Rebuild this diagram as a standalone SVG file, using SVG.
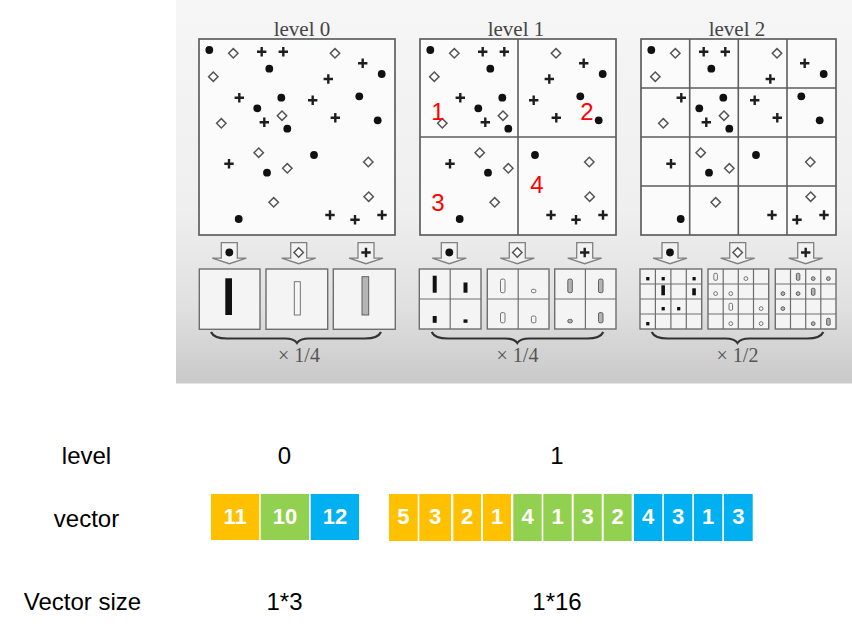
<svg xmlns="http://www.w3.org/2000/svg" xmlns:xlink="http://www.w3.org/1999/xlink" width="852" height="632" viewBox="0 0 852 632">
<style>
.frame{fill:#fbfbfb;stroke:#5e5e5e;stroke-width:1.7}
.div{stroke:#5e5e5e;stroke-width:1.6;fill:none}
.hbox{fill:#f4f4f4;stroke:#6e6e6e;stroke-width:1.4}
.hdiv{stroke:#6e6e6e;stroke-width:1.2;fill:none}
.title{font-family:"Liberation Serif",serif;font-size:21px;fill:#444;text-anchor:middle}
.scale{font-family:"Liberation Serif",serif;font-size:20px;fill:#555;text-anchor:middle}
.red{font-family:"Liberation Sans",Arial,sans-serif;font-size:24px;fill:#ff0000;text-anchor:middle}
.lbl{font-family:"Liberation Sans",Arial,sans-serif;font-size:24px;fill:#000;text-anchor:middle}
.num{font-family:"Liberation Sans",Arial,sans-serif;font-size:22px;font-weight:bold;fill:#fff;text-anchor:middle}
.brace{fill:none;stroke:#333;stroke-width:2.2}
.arrow{fill:#f2f2f2;stroke:#808080;stroke-width:1.3}
.bk{fill:#111}
.ol{fill:#f6f6f6;stroke:#666;stroke-width:0.9}
.gy{fill:#b4b4b4;stroke:#555;stroke-width:0.9}
.or{fill:#FFC000}.gr{fill:#92D050}.bl{fill:#00B0F0}
</style>
<defs>
<linearGradient id="bg" x1="0" y1="0" x2="0" y2="1">
<stop offset="0" stop-color="#f6f6f6"/>
<stop offset="0.55" stop-color="#efefef"/>
<stop offset="0.8" stop-color="#e0e0e0"/>
<stop offset="1" stop-color="#c9c9c9"/>
</linearGradient>
<circle id="d" r="3.9" fill="#111"/>
<path id="m" d="M0,-4.7L4.7,0L0,4.7L-4.7,0Z" fill="#fff" stroke="#555" stroke-width="1.5"/>
<path id="p" d="M-4.7,0H4.7M0,-4.7V4.7" stroke="#1e1e1e" stroke-width="2.4" fill="none"/>
<path id="arr" d="M-8,0H8V15.5H17L0,21L-17,15.5H-8Z" class="arrow"/>
<g id="pts">
<use href="#d" x="209.3" y="50"/><use href="#d" x="269.3" y="68.7"/><use href="#d" x="381.7" y="74"/><use href="#d" x="281.3" y="97.7"/><use href="#d" x="359.3" y="96.3"/><use href="#d" x="257.3" y="108.3"/><use href="#d" x="377.7" y="120.3"/><use href="#d" x="287.3" y="128.7"/><use href="#d" x="314" y="155"/><use href="#d" x="267" y="172.7"/><use href="#d" x="238.7" y="219"/>
<use href="#m" x="233.3" y="53.3"/><use href="#m" x="335" y="53.3"/><use href="#m" x="213.3" y="76.7"/><use href="#m" x="282" y="115.7"/><use href="#m" x="221.3" y="123.3"/><use href="#m" x="258.7" y="152.7"/><use href="#m" x="287.3" y="168.3"/><use href="#m" x="368.3" y="162"/><use href="#m" x="273.7" y="202.3"/><use href="#m" x="368.7" y="196.7"/>
<use href="#p" x="261.7" y="51.7"/><use href="#p" x="283.3" y="51.7"/><use href="#p" x="362.7" y="63.3"/><use href="#p" x="328.3" y="79"/><use href="#p" x="239.3" y="97.7"/><use href="#p" x="312.7" y="100.3"/><use href="#p" x="264.3" y="122.3"/><use href="#p" x="335.3" y="117.7"/><use href="#p" x="229" y="163.7"/><use href="#p" x="330" y="215"/><use href="#p" x="355" y="219.7"/><use href="#p" x="382" y="215"/>
</g>
</defs>
<rect width="852" height="632" fill="#fff"/>
<rect x="176" y="0" width="676" height="383.5" fill="url(#bg)"/>

<g id="level0">
<text class="title" x="302" y="36">level 0</text>
<rect class="frame" x="199" y="39" width="196" height="196"/>
<use href="#pts"/>
</g>

<g id="level1">
<text class="title" x="516" y="36">level 1</text>
<rect class="frame" x="420" y="39" width="196" height="196"/>
<path class="div" d="M518,39V235M420,137H616"/>
<use href="#pts" transform="translate(221,0)"/>
<text class="red" x="438" y="120">1</text>
<text class="red" x="587" y="120">2</text>
<text class="red" x="438" y="211">3</text>
<text class="red" x="537" y="193">4</text>
</g>

<g id="level2">
<text class="title" x="737" y="36">level 2</text>
<rect class="frame" x="641" y="39" width="195" height="196"/>
<path class="div" d="M689.7,39V235M738.3,39V235M787,39V235M641,88H836M641,137H836M641,186H836"/>
<use href="#pts" transform="translate(442,0)"/>
</g>

<g id="arrows">
<use href="#arr" x="229.3" y="242.7"/><use href="#d" x="229.3" y="252.5"/>
<use href="#arr" x="298.7" y="242.7"/><use href="#m" x="298.7" y="252.5"/>
<use href="#arr" x="366" y="242.7"/><use href="#p" x="366" y="252.5"/>
<use href="#arr" x="449.3" y="242.7"/><use href="#d" x="449.3" y="252.5"/>
<use href="#arr" x="517.3" y="242.7"/><use href="#m" x="517.3" y="252.5"/>
<use href="#arr" x="584.7" y="242.7"/><use href="#p" x="584.7" y="252.5"/>
<use href="#arr" x="670" y="242.7"/><use href="#d" x="670" y="252.5"/>
<use href="#arr" x="737.7" y="242.7"/><use href="#m" x="737.7" y="252.5"/>
<use href="#arr" x="805.7" y="242.7"/><use href="#p" x="805.7" y="252.5"/>
</g>

<g id="hist0">
<rect class="hbox" x="199.3" y="269" width="60.7" height="60.3"/>
<rect class="hbox" x="266" y="269" width="61.7" height="60.3"/>
<rect class="hbox" x="333.3" y="269" width="62" height="60.3"/>
<rect class="bk" x="225.3" y="278.3" width="6.7" height="36.7"/>
<rect class="ol" x="294.3" y="281.7" width="6" height="33.3"/>
<rect class="gy" x="362" y="276.7" width="6.7" height="38.3"/>
</g>

<g id="hist1">
<rect class="hbox" x="419.3" y="269" width="61.7" height="60"/>
<rect class="hbox" x="487.3" y="269" width="61.7" height="60"/>
<rect class="hbox" x="554.7" y="269" width="61.3" height="60"/>
<path class="hdiv" d="M450.2,269V329M419.3,299H481M518.2,269V329M487.3,299H549M585.4,269V329M554.7,299H616"/>
<rect class="bk" x="432.7" y="275.7" width="4" height="17"/>
<rect class="bk" x="463.5" y="282.5" width="4" height="10.2"/>
<rect class="bk" x="432.7" y="316" width="4" height="6.8"/>
<rect class="bk" x="463.5" y="319.4" width="4" height="3.4"/>
<rect class="ol" x="500.5" y="279.1" width="4.5" height="13.6" rx="1.5"/>
<rect class="ol" x="531.4" y="289.3" width="4.5" height="3.4" rx="1.5"/>
<rect class="ol" x="500.5" y="312.6" width="4.5" height="10.2" rx="1.5"/>
<rect class="ol" x="531.4" y="316" width="4.5" height="6.8" rx="1.5"/>
<rect class="gy" x="567.8" y="279.1" width="4.5" height="13.6" rx="1.5"/>
<rect class="gy" x="598.5" y="279.1" width="4.5" height="13.6" rx="1.5"/>
<rect class="gy" x="567.8" y="319.4" width="4.5" height="3.4" rx="1.5"/>
<rect class="gy" x="598.5" y="312.6" width="4.5" height="10.2" rx="1.5"/>
</g>

<g id="hist2">
<rect class="hbox" x="640" y="269" width="61.7" height="60"/>
<rect class="hbox" x="708" y="269" width="60.7" height="60"/>
<rect class="hbox" x="775.3" y="269" width="60.7" height="60"/>
<path class="hdiv" d="M655.4,269V329M670.9,269V329M686.3,269V329M640,284H701.7M640,299H701.7M640,314H701.7"/>
<path class="hdiv" d="M723.2,269V329M738.3,269V329M753.5,269V329M708,284H768.7M708,299H768.7M708,314H768.7"/>
<path class="hdiv" d="M790.5,269V329M805.7,269V329M820.8,269V329M775.3,284H836M775.3,299H836M775.3,314H836"/>
<rect class="bk" x="646.2" y="277" width="3.2" height="3.4"/>
<rect class="bk" x="661.6" y="277" width="3.2" height="3.4"/>
<rect class="bk" x="692.5" y="277" width="3.2" height="3.4"/>
<rect class="bk" x="661.35" y="285.3" width="3.6" height="10"/>
<rect class="bk" x="692.25" y="288.3" width="3.6" height="7"/>
<rect class="bk" x="661.6" y="307" width="3.2" height="3.4"/>
<rect class="bk" x="677.1" y="307" width="3.2" height="3.4"/>
<rect class="bk" x="646.2" y="322" width="3.2" height="3.4"/>
<rect class="ol" x="713.85" y="273.3" width="3.5" height="7" rx="1.2"/>
<circle class="ol" cx="745.9" cy="278.6" r="1.9"/>
<circle class="ol" cx="715.6" cy="293.6" r="1.9"/>
<circle class="ol" cx="730.8" cy="293.6" r="1.9"/>
<rect class="ol" x="729.05" y="303.3" width="3.5" height="7" rx="1.2"/>
<circle class="ol" cx="761.1" cy="308.6" r="1.9"/>
<circle class="ol" cx="730.8" cy="323.6" r="1.9"/>
<circle class="ol" cx="761.1" cy="323.6" r="1.9"/>
<rect class="gy" x="796.35" y="273.3" width="3.5" height="7" rx="1.2"/>
<circle class="gy" cx="813.2" cy="278.6" r="1.9"/>
<circle class="gy" cx="828.4" cy="278.6" r="1.9"/>
<circle class="gy" cx="782.9" cy="293.6" r="1.9"/>
<circle class="gy" cx="798.1" cy="293.6" r="1.9"/>
<rect class="gy" x="811.45" y="288.3" width="3.5" height="7" rx="1.2"/>
<circle class="gy" cx="782.9" cy="308.6" r="1.9"/>
<circle class="gy" cx="813.2" cy="323.6" r="1.9"/>
<rect class="gy" x="826.65" y="318.3" width="3.5" height="7" rx="1.2"/>
</g>

<g id="braces">
<path class="brace" d="M211,332Q214,338.5 227,338.5L285,338.5Q294,338.5 297,343Q300,338.5 309,338.5L365,338.5Q378,338.5 381,332"/>
<path class="brace" d="M431.7,332Q434.7,338.5 447.7,338.5L505.3,338.5Q514.3,338.5 517.3,343Q520.3,338.5 529.3,338.5L587.3,338.5Q600.3,338.5 603.3,332"/>
<path class="brace" d="M651.7,332Q654.7,338.5 667.7,338.5L725.5,338.5Q734.5,338.5 737.5,343Q740.5,338.5 749.5,338.5L807.3,338.5Q820.3,338.5 823.3,332"/>
<text class="scale" x="299" y="362">× 1/4</text>
<text class="scale" x="517.5" y="362">× 1/4</text>
<text class="scale" x="737.5" y="362">× 1/2</text>
</g>

<g id="labels">
<text class="lbl" x="86.5" y="464">level</text>
<text class="lbl" x="86.5" y="527">vector</text>
<text class="lbl" x="82.5" y="610">Vector size</text>
<text class="lbl" x="284.5" y="464">0</text>
<text class="lbl" x="557" y="464">1</text>
<text class="lbl" x="284.5" y="610">1*3</text>
<text class="lbl" x="557" y="610">1*16</text>
</g>

<g id="vector0">
<rect class="or" x="211" y="494" width="48.3" height="46"/>
<rect class="gr" x="260.7" y="494" width="48.3" height="46"/>
<rect class="bl" x="310.7" y="494" width="48.3" height="46"/>
<text class="num" x="235.2" y="524">11</text>
<text class="num" x="284.9" y="524">10</text>
<text class="num" x="334.9" y="524">12</text>
</g>

<g id="vector1">
<rect class="or" x="389" y="494" width="28.7" height="47"/>
<rect class="or" x="419.3" y="494" width="31.7" height="47"/>
<rect class="or" x="453.3" y="494" width="27.7" height="47"/>
<rect class="or" x="483" y="494" width="28" height="47"/>
<rect class="gr" x="513.3" y="494" width="28.4" height="47"/>
<rect class="gr" x="543.3" y="494" width="28.4" height="47"/>
<rect class="gr" x="573.7" y="494" width="28" height="47"/>
<rect class="gr" x="603.7" y="494" width="28" height="47"/>
<rect class="bl" x="634" y="494" width="28.3" height="47"/>
<rect class="bl" x="664" y="494" width="28.3" height="47"/>
<rect class="bl" x="694" y="494" width="28.3" height="47"/>
<rect class="bl" x="724" y="494" width="28.7" height="47"/>
<text class="num" x="403.3" y="524">5</text>
<text class="num" x="435.2" y="524">3</text>
<text class="num" x="467.2" y="524">2</text>
<text class="num" x="497" y="524">1</text>
<text class="num" x="527.5" y="524">4</text>
<text class="num" x="557.5" y="524">1</text>
<text class="num" x="587.7" y="524">3</text>
<text class="num" x="617.7" y="524">2</text>
<text class="num" x="648.2" y="524">4</text>
<text class="num" x="678.2" y="524">3</text>
<text class="num" x="708.2" y="524">1</text>
<text class="num" x="738.4" y="524">3</text>
</g>
</svg>
